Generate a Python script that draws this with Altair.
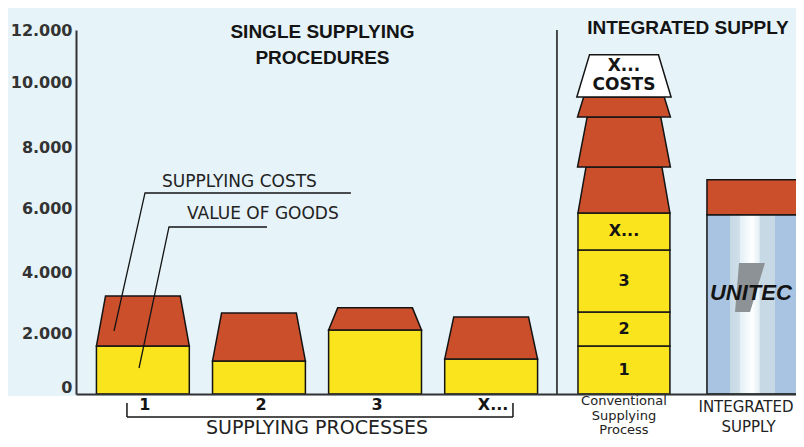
import altair as alt
import pandas as pd

# ---------------- data ----------------
PROCESSES = ["1", "2", "3", "X..."]
VALUE_OF_GOODS = [1580, 1090, 2110, 1150]
SUPPLYING_COSTS = [1650, 1580, 730, 1390]
CONV_SEGMENTS = ["1", "2", "3", "X..."]
CONV_GOODS = [1580, 1120, 2050, 1220]
CONV_COSTS = [1510, 1650, 660, 1390]
INTEGRATED_GOODS = [5900]
INTEGRATED_COSTS = [1160]
Y_TICKS = [0, 2000, 4000, 6000, 8000, 10000, 12000]

# ---------------- layout / style constants ----------------
W, H = 720, 364
PAD = {"left": 68, "top": 22, "right": 0, "bottom": 45}
X_DOMAIN = [0.424, 6.626]
CONV_X = 5.144
INTEG_X = 6.247
DIVIDER_X = 4.567
HALF = 0.40
TAPER = 0.078
CONV_BOTTOM_HALF = [0.396, 0.40, 0.40, 0.406]
CONV_TOP_HALF = [0.327, 0.317, 0.347, 0.297]
INTEG_HALF = 0.388

RED = "#cc4f2c"
YELLOW = "#f9e41e"
BG = "#e6f3f8"
INK = "#141414"
AXIS = "#333333"

xs = alt.Scale(domain=X_DOMAIN, nice=False, zero=False)
ys = alt.Scale(domain=[0, 12000], nice=False, zero=False)

# ---------------- shapes (rectangles & trapezoids) ----------------
rows = []


def shape(sid, kind, c, y0, y1, hb, ht):
    rows.append(dict(id=sid, kind=kind, y=y0, xl=c - hb, xr=c + hb))
    rows.append(dict(id=sid, kind=kind, y=y1, xl=c - ht, xr=c + ht))


for i, (g, k) in enumerate(zip(VALUE_OF_GOODS, SUPPLYING_COSTS)):
    c = i + 1
    shape(f"g{i}", "goods", c, 0, g, HALF, HALF)
    shape(f"c{i}", "costs", c, g, g + k, HALF, HALF - TAPER)

base = 0
conv_mid = []
for i, g in enumerate(CONV_GOODS):
    shape(f"cg{i}", "goods", CONV_X, base, base + g, HALF - 0.004, HALF - 0.004)
    conv_mid.append(base + g / 2)
    base += g
xcost_mid = 0
for i, k in enumerate(CONV_COSTS):
    kind = "xcosts" if i == len(CONV_COSTS) - 1 else "costs"
    shape(f"cc{i}", kind, CONV_X, base, base + k, CONV_BOTTOM_HALF[i], CONV_TOP_HALF[i])
    if kind == "xcosts":
        xcost_mid = base + k / 2
    base += k
ig, ic = INTEGRATED_GOODS[0], INTEGRATED_COSTS[0]
shape("ic", "costs", INTEG_X, ig, ig + ic, INTEG_HALF, INTEG_HALF)

shapes = pd.DataFrame(rows)

yaxis = alt.Axis(
    values=Y_TICKS, format=",d", labelExpr="replace(datum.label, ',', '.')",
    labelFont="DejaVu Sans", labelFontSize=16, labelFontWeight="bold", labelColor=AXIS,
    tickSize=0, labelPadding=4, grid=False, domainColor=AXIS, domainWidth=2,
    title=None, zindex=1,
    labelOffset={"condition": [
        {"test": "datum.value == 10000", "value": -8},
        {"test": "datum.value == 0", "value": -7},
        {"test": "datum.value == 6000 || datum.value == 8000", "value": -4},
    ], "value": 0},
)
xaxis = alt.Axis(labels=False, ticks=False, grid=False, title=None,
                 domainColor=AXIS, domainWidth=2, zindex=1)

background = alt.Chart(pd.DataFrame({"a": [0]})).mark_rect(color=BG).encode(
    x=alt.value(-PAD["left"]), x2=alt.value(W), y=alt.value(-PAD["top"]), y2=alt.value(H + 2)
)

areas = alt.Chart(shapes).mark_area(
    orient="horizontal", stroke=INK, strokeWidth=1.5, opacity=1, clip=False
).encode(
    y=alt.Y("y:Q", scale=ys, axis=yaxis),
    x=alt.X("xl:Q", scale=xs, axis=xaxis, stack=None),
    x2="xr:Q",
    color=alt.Color("kind:N", scale=alt.Scale(domain=["goods", "costs", "xcosts"],
                                              range=[YELLOW, RED, "#ffffff"]), legend=None),
    detail="id:N",
)

gradient = alt.LinearGradient(
    gradient="linear", x1=0, x2=1, y1=0, y2=0,
    stops=[
        alt.GradientStop(color="#a8c4e2", offset=0),
        alt.GradientStop(color="#a8c4e2", offset=0.25),
        alt.GradientStop(color="#c8d9e6", offset=0.26),
        alt.GradientStop(color="#cfdfe9", offset=0.36),
        alt.GradientStop(color="#e4f0f5", offset=0.37),
        alt.GradientStop(color="#ffffff", offset=0.5),
        alt.GradientStop(color="#e4f0f5", offset=0.58),
        alt.GradientStop(color="#c8d9e6", offset=0.59),
        alt.GradientStop(color="#c8d9e6", offset=0.75),
        alt.GradientStop(color="#a8c4e2", offset=0.76),
        alt.GradientStop(color="#a8c4e2", offset=1),
    ],
)
integ = alt.Chart(pd.DataFrame({"xl": [INTEG_X - INTEG_HALF], "xr": [INTEG_X + INTEG_HALF],
                                "y0": [0], "y1": [ig]})).mark_rect(
    fill=gradient, stroke=INK, strokeWidth=1.5
).encode(x=alt.X("xl:Q", scale=xs), x2="xr:Q", y=alt.Y("y0:Q", scale=ys), y2="y1:Q")

logo_shape = alt.Chart(pd.DataFrame({
    "y": [ig * 0.458, ig * 0.732],
    "xl": [INTEG_X - 0.146, INTEG_X - 0.112],
    "xr": [INTEG_X - 0.017, INTEG_X + 0.112],
})).mark_area(orient="horizontal", color="#8d9296", opacity=1).encode(
    y=alt.Y("y:Q", scale=ys), x=alt.X("xl:Q", scale=xs, stack=None), x2="xr:Q"
)
logo_text = alt.Chart(pd.DataFrame({"x": [INTEG_X - 0.01], "y": [ig * 0.565], "t": ["UNITEC"]})).mark_text(
    font="Liberation Sans", fontSize=22, fontWeight="bold", fontStyle="italic", color=INK
).encode(x=alt.X("x:Q", scale=xs), y=alt.Y("y:Q", scale=ys), text="t:N")

divider = alt.Chart(pd.DataFrame({"x": [DIVIDER_X], "y0": [0], "y1": [12000]})).mark_rule(
    color=INK, strokeWidth=1.5
).encode(x=alt.X("x:Q", scale=xs), y=alt.Y("y0:Q", scale=ys), y2="y1:Q")

# conventional segment labels
conv_labels = alt.Chart(pd.DataFrame({"x": [CONV_X] * 4, "y": conv_mid, "t": CONV_SEGMENTS})).mark_text(
    font="DejaVu Sans", fontSize=16, fontWeight="bold", color=INK
).encode(x=alt.X("x:Q", scale=xs), y=alt.Y("y:Q", scale=ys), text="t:N")


def xcost_label(text, dy):
    return alt.Chart(pd.DataFrame({"x": [CONV_X], "y": [xcost_mid], "t": [text]})).mark_text(
        font="DejaVu Sans", fontSize=17, fontWeight="bold", color=INK, dy=dy
    ).encode(x=alt.X("x:Q", scale=xs), y=alt.Y("y:Q", scale=ys), text="t:N")


xcost_labels = [xcost_label("X...", -9.5), xcost_label("COSTS", 9.5)]

# leader lines for annotation
c1 = 1
leaders = alt.Chart(pd.DataFrame({
    "line": ["a", "a", "a", "b", "b", "b"],
    "o": [0, 1, 2, 0, 1, 2],
    "x": [c1 + 1.792, c1 + 0.0185, c1 - 0.2485, c1 + 1.069, c1 + 0.225, c1 - 0.033],
    "y": [6627, 6627, 2077, 5506, 5506, 857],
})).mark_line(color=INK, strokeWidth=1.3).encode(
    x=alt.X("x:Q", scale=xs), y=alt.Y("y:Q", scale=ys), detail="line:N", order="o:Q"
)
ann = alt.Chart(pd.DataFrame({
    "x": [c1 + 0.165, c1 + 0.380], "y": [6973, 5934],
    "t": ["SUPPLYING COSTS", "VALUE OF GOODS"],
})).mark_text(font="DejaVu Sans", fontSize=17, align="left", color="#222222").encode(
    x=alt.X("x:Q", scale=xs), y=alt.Y("y:Q", scale=ys), text="t:N"
)


def txt(text, x, py, size, weight="normal", font="DejaVu Sans", color=INK):
    return alt.Chart(pd.DataFrame({"x": [x], "t": [text]})).mark_text(
        font=font, fontSize=size, fontWeight=weight, align="center", baseline="middle", color=color
    ).encode(x=alt.X("x:Q", scale=xs), y=alt.value(py), text="t:N")


titles = [
    txt("SINGLE SUPPLYING", 2.547, 2, 19, "bold", "Liberation Sans"),
    txt("PROCEDURES", 2.547, 28, 19, "bold", "Liberation Sans"),
    txt("INTEGRATED SUPPLY", (CONV_X + INTEG_X) / 2, -2, 19, "bold", "Liberation Sans"),
    txt("Conventional", CONV_X, 371, 13, color="#222222"),
    txt("Supplying", CONV_X, 385.5, 13, color="#222222"),
    txt("Process", CONV_X, 400, 13, color="#222222"),
    txt("INTEGRATED", INTEG_X - 0.052, 377, 15, color="#222222"),
    txt("SUPPLY", INTEG_X - 0.03, 396.5, 15, color="#222222"),
    txt("SUPPLYING PROCESSES", (1 + len(PROCESSES)) / 2, 397.5, 19, color="#222222"),
]

cat_labels = alt.Chart(pd.DataFrame({"x": [i + 1 for i in range(len(PROCESSES))],
                                     "t": PROCESSES})).mark_text(
    font="DejaVu Sans", fontSize=16, fontWeight="bold", color=INK, dx=2
).encode(x=alt.X("x:Q", scale=xs), y=alt.value(375), text="t:N")

bl, br = 1 - 0.137, len(PROCESSES) + 0.188
bracket_h = alt.Chart(pd.DataFrame({"a": [bl], "b": [br]})).mark_rule(color=INK, strokeWidth=1.5).encode(
    x=alt.X("a:Q", scale=xs), x2="b:Q", y=alt.value(387)
)
bracket_v = alt.Chart(pd.DataFrame({"a": [bl, br]})).mark_rule(color=INK, strokeWidth=1.5).encode(
    x=alt.X("a:Q", scale=xs), y=alt.value(373), y2=alt.value(387)
)

chart = alt.layer(
    background, areas, integ, logo_shape, logo_text, divider, conv_labels, *xcost_labels,
    leaders, ann, cat_labels, bracket_h, bracket_v, *titles
).properties(
    width=W, height=H, padding=PAD, autosize="none", background="white"
).configure_view(stroke=None)

chart.save("out.html", embed_options={"renderer": "svg", "actions": False})
